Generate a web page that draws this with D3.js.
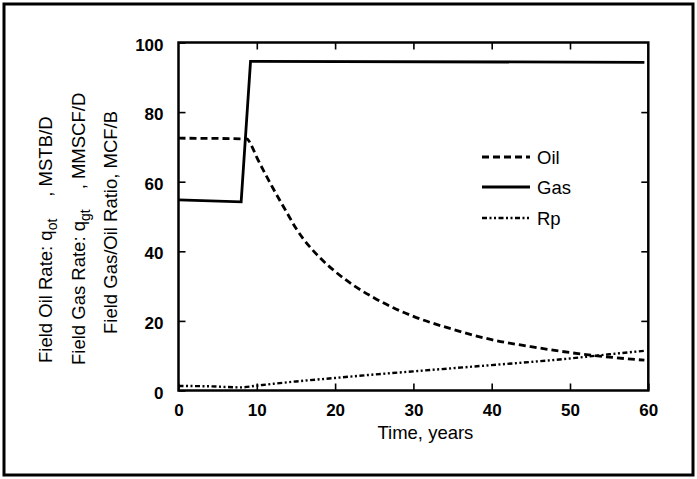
<!DOCTYPE html>
<html>
<head>
<meta charset="utf-8">
<script src="https://cdn.jsdelivr.net/npm/d3@7/dist/d3.min.js"></script>
<style>
  html, body { margin: 0; padding: 0; background: #fff; }
  svg { display: block; }
  text { font-family: "Liberation Sans", Arial, Helvetica, sans-serif; fill: #000; }
</style>
</head>
<body>
<svg id="chart" width="697" height="479"></svg>
<script>
// ---- data ----
const xTicks = [0, 10, 20, 30, 40, 50, 60];
const yTicks = [0, 20, 40, 60, 80, 100];

const gasYears = [0, 8, 9.2, 59.5];
const gasRate  = [54.8, 54.2, 94.6, 94.3];

const oilYears = [0, 8.7, 9.5, 10, 11, 12, 13, 14, 15, 16, 17, 18, 20, 22.5, 25, 27.5, 30, 35, 40, 45, 50, 55, 59.5];
const oilRate  = [72.5, 72.3, 69.5, 67, 62.6, 58.4, 54.4, 50.5, 46.6, 43.4, 40.7, 38.3, 34.2, 30.0, 26.6, 23.7, 21.3, 17.6, 14.6, 12.6, 10.9, 9.6, 8.7];

const rpYears = [0, 4, 8, 10, 12, 15, 20, 25, 30, 35, 40, 45, 50, 55, 59.5];
const rpRatio = [1.3, 1.2, 0.9, 1.4, 1.9, 2.6, 3.6, 4.6, 5.5, 6.4, 7.3, 8.2, 9.2, 10.4, 11.4];

const seriesNames = ["Oil", "Gas", "Rp"];
const xTitle = "Time, years";

// ---- layout ----
const svg = d3.select("#chart");
const L = 178.5, R = 648.3, T = 42.5, B = 390.5;

const x = d3.scaleLinear().domain([0, 60]).range([L, R]);
const y = d3.scaleLinear().domain([0, 100]).range([B, T]);

// outer frame
svg.append("rect").attr("x", 4).attr("y", 4).attr("width", 689).attr("height", 471)
  .attr("fill", "none").attr("stroke", "#000").attr("stroke-width", 3);

const tickLen = 7;
// axes with inward ticks
const gB = svg.append("g").attr("transform", `translate(0,${B})`)
  .call(d3.axisBottom(x).tickValues(xTicks).tickSize(-tickLen).tickPadding(13).tickFormat(d3.format("d")));
const gT = svg.append("g").attr("transform", `translate(0,${T})`)
  .call(d3.axisTop(x).tickValues(xTicks.slice(1, -1)).tickSize(-tickLen).tickFormat(""));
const gL = svg.append("g").attr("transform", `translate(${L},0)`)
  .call(d3.axisLeft(y).tickValues(yTicks).tickSize(-tickLen).tickPadding(15).tickFormat(d3.format("d")));
const gR = svg.append("g").attr("transform", `translate(${R},0)`)
  .call(d3.axisRight(y).tickValues(yTicks.slice(1, -1)).tickSize(-tickLen).tickFormat(""));

[gB, gT, gL, gR].forEach(g => {
  g.select(".domain").remove();
  g.selectAll(".tick line").attr("stroke", "#000").attr("stroke-width", 1.6);
  g.selectAll(".tick text").attr("font-size", 17).attr("font-weight", "bold")
    .attr("font-family", "'Liberation Sans', Arial, sans-serif").attr("fill", "#000");
});
gL.selectAll(".tick text").attr("dy", "0.45em");

// plot frame
svg.append("rect").attr("x", L).attr("y", T).attr("width", R - L).attr("height", B - T)
  .attr("fill", "none").attr("stroke", "#000").attr("stroke-width", 2.5);

// series
const oilPts = oilYears.map((t, i) => [t, oilRate[i]]);
const gasPts = gasYears.map((t, i) => [t, gasRate[i]]);
const rpPts = rpYears.map((t, i) => [t, rpRatio[i]]);

const styles = {
  Oil: { dash: "7,4", width: 2.8 },
  Gas: { dash: null, width: 2.8 },
  Rp:  { dash: "5,2.5,2,2.5,2,2.5", width: 2.4 }
};

const smooth = d3.line().x(d => x(d[0])).y(d => y(d[1])).curve(d3.curveMonotoneX);
const straight = d3.line().x(d => x(d[0])).y(d => y(d[1]));

svg.append("path").attr("d", smooth(oilPts))
  .attr("fill", "none").attr("stroke", "#000").attr("stroke-width", styles.Oil.width)
  .attr("stroke-dasharray", styles.Oil.dash);
svg.append("path").attr("d", straight(gasPts))
  .attr("fill", "none").attr("stroke", "#000").attr("stroke-width", styles.Gas.width);
svg.append("path").attr("d", smooth(rpPts))
  .attr("fill", "none").attr("stroke", "#000").attr("stroke-width", styles.Rp.width)
  .attr("stroke-dasharray", styles.Rp.dash);

// legend
const legY = [157, 187, 218];
seriesNames.forEach((name, i) => {
  const st = styles[name];
  svg.append("line").attr("x1", 482).attr("x2", 530).attr("y1", legY[i]).attr("y2", legY[i])
    .attr("stroke", "#000").attr("stroke-width", st.width)
    .attr("stroke-dasharray", st.dash);
  svg.append("text").attr("x", 537).attr("y", legY[i] + 6.5)
    .attr("font-size", 18.5).text(name);
});

// x title
svg.append("text").attr("x", (L + R) / 2 + 12).attr("y", 438.5)
  .attr("text-anchor", "middle").attr("font-size", 18.5).text(xTitle);

// y titles (three rotated lines)
function yLine(bx, by, parts) {
  const t = svg.append("text").attr("transform", `translate(${bx},${by}) rotate(-90)`)
    .attr("font-size", 18.5);
  parts.forEach(p => {
    const s = t.append("tspan").text(p.text);
    if (p.sub) s.attr("font-size", 14).attr("dy", 5);
    if (p.up) s.attr("dy", -5);
    if (p.dx) s.attr("dx", p.dx);
  });
}
yLine(52, 363, [
  { text: "Field Oil Rate: q" },
  { text: "ot", sub: true },
  { text: ", MSTB/D", up: true, dx: 22 }
]);
yLine(85, 365, [
  { text: "Field Gas Rate: q" },
  { text: "gt", sub: true },
  { text: ", MMSCF/D", up: true, dx: 20 }
]);
yLine(117, 334, [
  { text: "Field Gas/Oil Ratio, MCF/B" }
]);
</script>
</body>
</html>
